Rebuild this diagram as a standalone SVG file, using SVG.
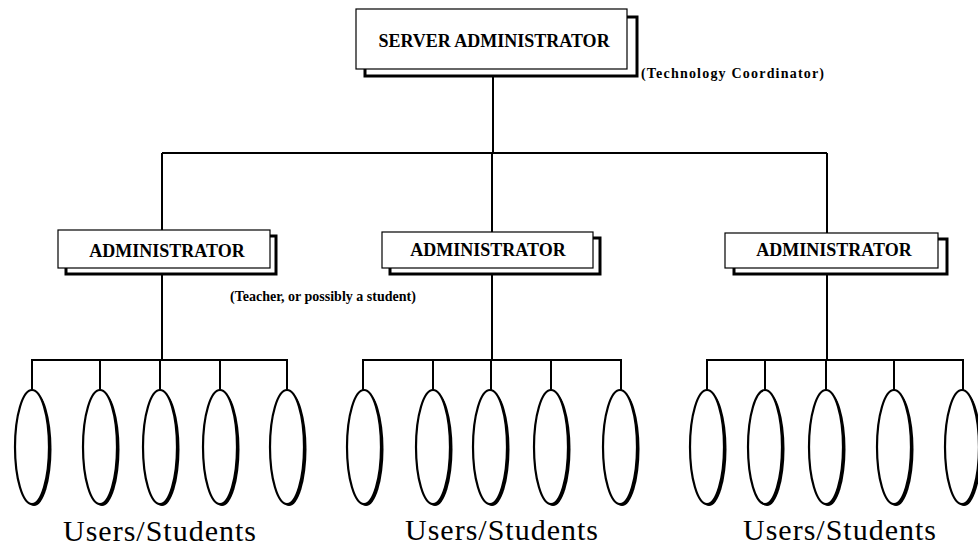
<svg xmlns="http://www.w3.org/2000/svg" width="978" height="551" viewBox="0 0 978 551">
<style>
.bg{fill:#fff}
.box{fill:#fff;stroke:#000;stroke-width:1.2}
.shadow{fill:#fff;stroke:#000;stroke-width:3}
.line{stroke:#000;stroke-width:2;fill:none}
.ell{fill:#fff;stroke:#000;stroke-width:2.2}
.ellsh{fill:#000}
.t{font-family:"Liberation Serif","Times New Roman",serif;fill:#000}
.title{font-size:18px;font-weight:bold}
.note{font-size:14px;font-weight:bold}
.users{font-size:30px;letter-spacing:1px}
</style>
<defs>
<g id="user">
<ellipse class="ellsh" cx="2" cy="2" rx="17.5" ry="57"/>
<ellipse class="ell" cx="0" cy="0" rx="17" ry="57"/>
</g>
</defs>
<rect class="bg" x="0" y="0" width="978" height="551"/>

<g id="connectors">
<line class="line" x1="493" y1="76" x2="493" y2="153"/>
<line class="line" x1="162" y1="153" x2="827" y2="153"/>
<line class="line" x1="162" y1="153" x2="162" y2="230"/>
<line class="line" x1="492" y1="153" x2="492" y2="232"/>
<line class="line" x1="827" y1="153" x2="827" y2="233"/>
<line class="line" x1="162" y1="274" x2="162" y2="360"/>
<line class="line" x1="492" y1="274" x2="492" y2="360"/>
<line class="line" x1="827" y1="274" x2="827" y2="360"/>
<path class="line" d="M32 390V360H287V390M100 360V390M160 360V390M220 360V390"/>
<path class="line" d="M363 390V360H621V390M433 360V390M491 360V390M551 360V390"/>
<path class="line" d="M707 390V360H963V390M765 360V390M826 360V390M894 360V390"/>
</g>

<g id="server-admin">
<rect class="shadow" x="365" y="17" width="272" height="59"/>
<rect class="box" x="356" y="9" width="271" height="60"/>
<text class="t title" x="494" y="47" text-anchor="middle">SERVER ADMINISTRATOR</text>
<text class="t note" x="641" y="78" letter-spacing="1.2" font-size="15">(Technology Coordinator)</text>
</g>

<g id="admin-left">
<rect class="shadow" x="66" y="236" width="210" height="38"/>
<rect class="box" x="58" y="230" width="212" height="38"/>
<text class="t title" x="167" y="257" text-anchor="middle">ADMINISTRATOR</text>
<text class="t note" x="230" y="301">(Teacher, or possibly a student)</text>
</g>

<g id="admin-middle">
<rect class="shadow" x="390" y="238" width="210" height="36"/>
<rect class="box" x="382" y="232" width="211" height="36"/>
<text class="t title" x="488" y="256" text-anchor="middle">ADMINISTRATOR</text>
</g>

<g id="admin-right">
<rect class="shadow" x="734" y="239" width="213" height="35"/>
<rect class="box" x="725" y="233" width="213" height="35"/>
<text class="t title" x="834" y="256" text-anchor="middle">ADMINISTRATOR</text>
</g>

<g id="users-left">
<use href="#user" x="32" y="447"/>
<use href="#user" x="100" y="447"/>
<use href="#user" x="160" y="447"/>
<use href="#user" x="220" y="447"/>
<use href="#user" x="287" y="447"/>
<text class="t users" x="160" y="541" text-anchor="middle">Users/Students</text>
</g>

<g id="users-middle">
<use href="#user" x="364" y="447"/>
<use href="#user" x="433" y="447"/>
<use href="#user" x="490" y="447"/>
<use href="#user" x="551" y="447"/>
<use href="#user" x="620" y="447"/>
<text class="t users" x="502" y="540" text-anchor="middle">Users/Students</text>
</g>

<g id="users-right">
<use href="#user" x="707" y="447"/>
<use href="#user" x="765" y="447"/>
<use href="#user" x="826" y="447"/>
<use href="#user" x="894" y="447"/>
<use href="#user" x="962" y="447"/>
<text class="t users" x="840" y="540" text-anchor="middle">Users/Students</text>
</g>
</svg>
